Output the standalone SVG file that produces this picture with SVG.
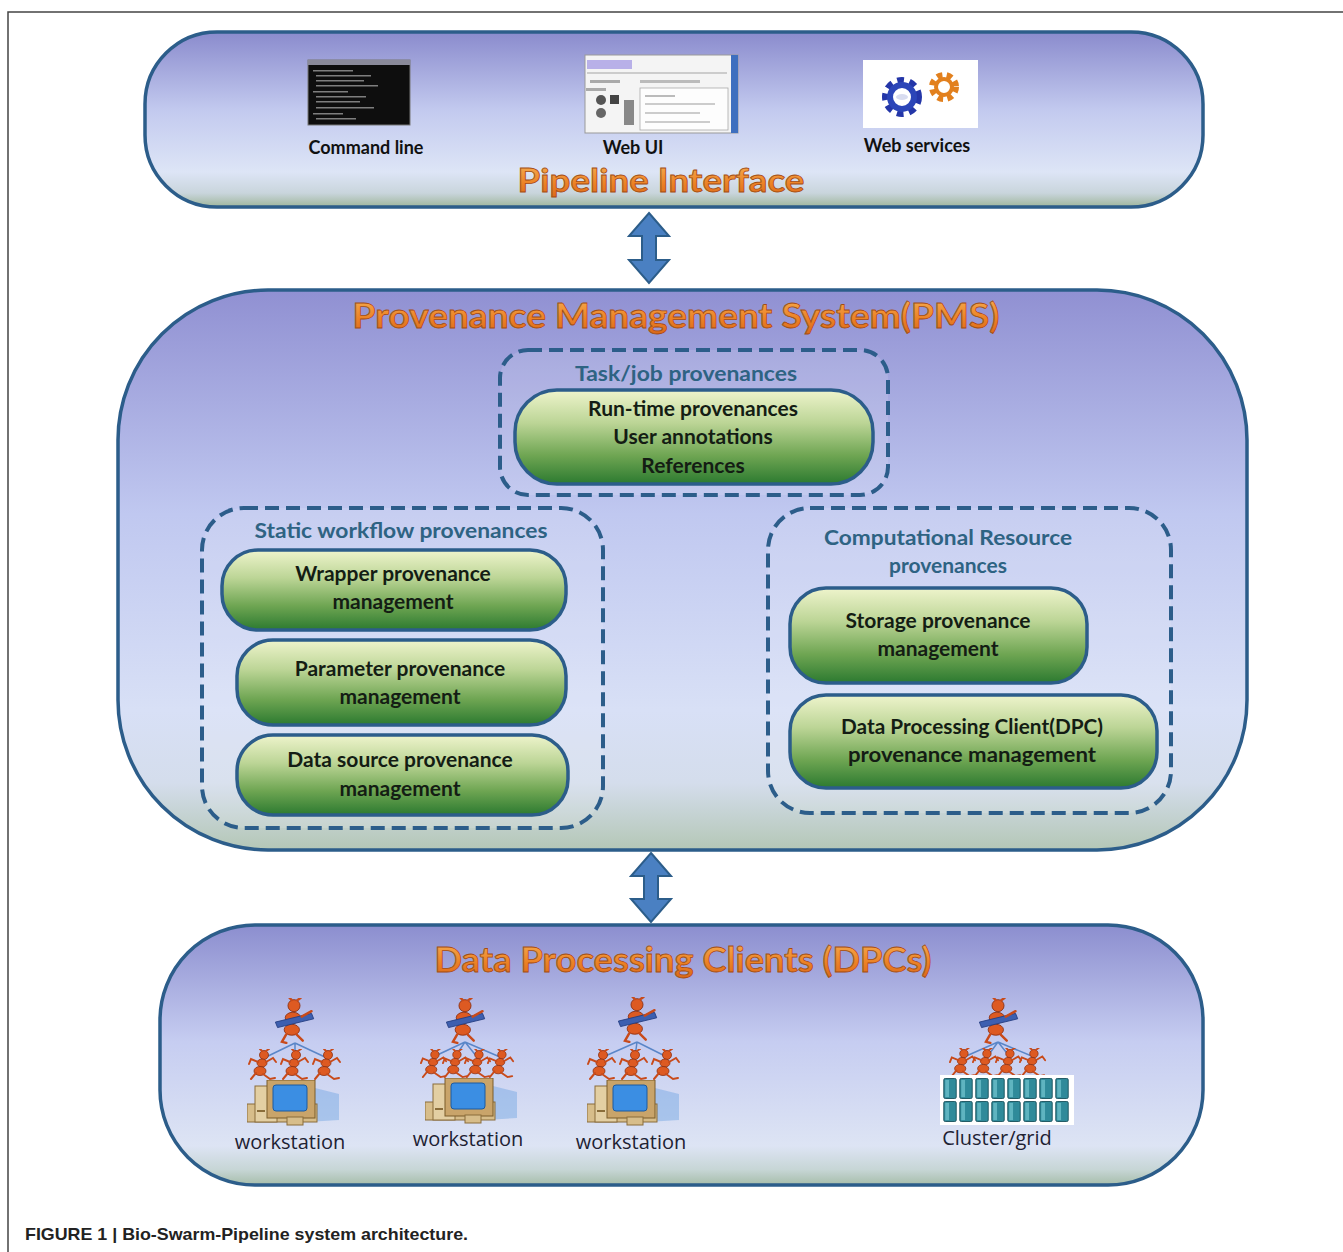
<svg xmlns="http://www.w3.org/2000/svg" width="1343" height="1252" viewBox="0 0 1343 1252">
<defs>
<style>
.panel{stroke:#2c5d8a;stroke-width:3.5}
.dash{fill:#ffffff;fill-opacity:0.12;stroke:#2c5d8a;stroke-width:4;stroke-dasharray:14 7}
.gbox{fill:url(#green);stroke:#2c5d8a;stroke-width:3.5}
.gt{font-family:Lato,"Liberation Sans",sans-serif;font-weight:bold;font-size:21px;fill:#141d14;text-anchor:middle}
.dt{font-family:Lato,"Liberation Sans",sans-serif;font-weight:bold;font-size:21px;fill:#2e6383;text-anchor:middle}
.big{font-family:Lato,"Liberation Sans",sans-serif;font-weight:bold;fill:url(#orange);stroke:#a44c12;stroke-width:0.8;text-anchor:middle}
.lbl{font-family:Lato,"Liberation Sans",sans-serif;font-weight:bold;font-size:18px;fill:#111;text-anchor:middle}
.ws{font-family:"Open Sans","DejaVu Sans",sans-serif;font-size:20px;fill:#1e2233;text-anchor:middle}
.conn{fill:none;stroke:#4a7fbf;stroke-width:1.6}
.dbl{fill:#4a80c2;stroke:#2c5d8a;stroke-width:2}
.tree{stroke:#5a86c8;stroke-width:1.5;fill:none}
</style>
<linearGradient id="pTop" x1="0" y1="0" x2="0" y2="1">
<stop offset="0" stop-color="#8a8bcd"/>
<stop offset="0.45" stop-color="#c3caef"/>
<stop offset="0.8" stop-color="#dde5f6"/>
<stop offset="0.92" stop-color="#c9d5dc"/>
<stop offset="1" stop-color="#9fb69c"/>
</linearGradient>
<linearGradient id="pMid" x1="0" y1="0" x2="0" y2="1">
<stop offset="0" stop-color="#9090d2"/>
<stop offset="0.4" stop-color="#c0c8f0"/>
<stop offset="0.75" stop-color="#d8e0f6"/>
<stop offset="0.88" stop-color="#d4ddec"/>
<stop offset="1" stop-color="#b4c7b6"/>
</linearGradient>
<linearGradient id="pBot" x1="0" y1="0" x2="0" y2="1">
<stop offset="0" stop-color="#8c8ecf"/>
<stop offset="0.45" stop-color="#c6cdf1"/>
<stop offset="0.85" stop-color="#dde4f4"/>
<stop offset="0.94" stop-color="#c7d6d6"/>
<stop offset="1" stop-color="#a6bdaa"/>
</linearGradient>
<linearGradient id="green" x1="0" y1="0" x2="0" y2="1">
<stop offset="0" stop-color="#eef4cc"/>
<stop offset="0.35" stop-color="#bcd596"/>
<stop offset="0.7" stop-color="#6ea552"/>
<stop offset="1" stop-color="#2c7a30"/>
</linearGradient>
<linearGradient id="orange" x1="0" y1="0" x2="0" y2="1">
<stop offset="0" stop-color="#f7b55a"/>
<stop offset="0.6" stop-color="#ec8226"/>
<stop offset="1" stop-color="#d9661a"/>
</linearGradient>
<marker id="vhead" viewBox="0 0 12 10" refX="6" refY="9" markerWidth="12" markerHeight="10" markerUnits="userSpaceOnUse" orient="auto-start-reverse">
<path d="M0,2 L6,9 L12,2" fill="none" stroke="#4a7fbf" stroke-width="1.5"/>
</marker>
<symbol id="ant" viewBox="0 0 30 32">
<g stroke="#8a2e10" stroke-width="0.8" fill="#dd5a22">
<circle cx="16" cy="6" r="4.5"/>
<ellipse cx="14" cy="14" rx="5" ry="4"/>
<ellipse cx="12" cy="22" rx="6" ry="4.5"/>
</g>
<g stroke="#c84a1a" stroke-width="2" fill="none" stroke-linecap="round">
<path d="M10,13 L3,10 L1,15"/>
<path d="M18,13 L25,9 L28,13"/>
<path d="M8,24 L3,30"/>
<path d="M15,25 L22,30 L27,29"/>
<path d="M14,2 L12,0"/>
<path d="M18,2 L21,0"/>
</g>
</symbol>
<symbol id="leader" viewBox="0 0 40 42">
<g stroke="#8a2e10" stroke-width="0.8" fill="#dd5a22">
<circle cx="20" cy="7" r="5.5"/>
<ellipse cx="19" cy="18" rx="7" ry="5"/>
<ellipse cx="18" cy="29" rx="7" ry="5"/>
</g>
<path d="M3,22 L36,14 L38,19 L5,27 Z" fill="#3d5fb0" stroke="#233d80" stroke-width="0.8"/>
<g stroke="#c84a1a" stroke-width="2.2" fill="none" stroke-linecap="round">
<path d="M13,33 L9,40 L13,41"/>
<path d="M22,33 L28,39"/>
<path d="M18,2 L16,0"/>
<path d="M23,2 L26,0"/>
<path d="M27,17 L36,12"/>
</g>
</symbol>
<symbol id="pc" viewBox="0 0 100 46">
<path d="M60,6 L92,14 L92,40 L60,42 Z" fill="#6ea3e2" opacity="0.45"/>
<rect x="0" y="24" width="70" height="18" fill="#d7bd8a" stroke="#8a6d3a" stroke-width="1"/>
<rect x="8" y="6" width="22" height="36" fill="#e3cfa3" stroke="#8a6d3a" stroke-width="1"/>
<rect x="20" y="0" width="48" height="38" fill="#c9a46a" stroke="#7a5d2a" stroke-width="1"/>
<rect x="26" y="5" width="34" height="26" rx="3" fill="#3b8ee3" stroke="#1d5aa0" stroke-width="1"/>
<rect x="40" y="37" width="16" height="8" fill="#d7bd8a" stroke="#8a6d3a" stroke-width="1"/>
<rect x="10" y="30" width="8" height="2" fill="#8a6d3a"/>
</symbol>
<symbol id="srv" viewBox="0 0 14 22">
<rect x="0.5" y="0.5" width="13" height="21" rx="1.5" fill="#2f8a9a" stroke="#1c5560" stroke-width="1"/>
<rect x="2" y="2" width="4" height="18" fill="#5fb4c0"/>
</symbol>
</defs>

<rect width="1343" height="1252" fill="#ffffff"/>
<path d="M8,1252 V12 H1343" fill="none" stroke="#444" stroke-width="1.5"/>

<g id="pipeline-interface">
<rect class="panel" x="145" y="32" width="1058" height="175" rx="72" ry="72" fill="url(#pTop)"/>
<g id="icon-command-line">
<rect x="308" y="60" width="102" height="65" fill="#0e0e0e" stroke="#777" stroke-width="1"/>
<rect x="308" y="60" width="102" height="5" fill="#8a8a9a"/>
<g fill="#9a9a9a" opacity="0.8">
<rect x="313" y="70" width="40" height="1.5"/><rect x="316" y="75" width="55" height="1.5"/>
<rect x="316" y="80" width="48" height="1.5"/><rect x="316" y="85" width="62" height="1.5"/>
<rect x="313" y="91" width="35" height="1.5"/><rect x="316" y="96" width="50" height="1.5"/>
<rect x="316" y="101" width="44" height="1.5"/><rect x="316" y="107" width="58" height="1.5"/>
<rect x="313" y="113" width="30" height="1.5"/><rect x="316" y="118" width="40" height="1.5"/>
</g>
</g>
<g id="icon-web-ui">
<rect x="585" y="55" width="153" height="78" fill="#f4f4f4" stroke="#999" stroke-width="1"/>
<rect x="731" y="55" width="7" height="78" fill="#3e6fbf"/>
<rect x="587" y="60" width="45" height="9" fill="#b8b0e8"/>
<rect x="587" y="72" width="140" height="2" fill="#ccc"/>
<rect x="590" y="80" width="30" height="3" fill="#aaa"/><rect x="640" y="80" width="60" height="3" fill="#bbb"/>
<rect x="586" y="88" width="20" height="3" fill="#aaa"/>
<circle cx="601" cy="100" r="5" fill="#555"/><rect x="610" y="95" width="9" height="9" fill="#444"/>
<circle cx="601" cy="113" r="5" fill="#666"/>
<rect x="624" y="100" width="10" height="25" fill="#888"/>
<rect x="640" y="88" width="88" height="42" fill="#fdfdfd" stroke="#aaa" stroke-width="0.8"/>
<rect x="645" y="95" width="30" height="2" fill="#bbb"/><rect x="645" y="103" width="70" height="2" fill="#ccc"/>
<rect x="645" y="112" width="55" height="2" fill="#ccc"/><rect x="645" y="121" width="65" height="2" fill="#ccc"/>
</g>
<g id="icon-web-services">
<rect x="863" y="60" width="115" height="68" fill="#ffffff"/>
<circle cx="944" cy="87" r="11" fill="none" stroke="#e2801e" stroke-width="8" stroke-dasharray="5 4"/>
<circle cx="944" cy="87" r="8" fill="none" stroke="#e2801e" stroke-width="4"/>
<circle cx="902" cy="97" r="15" fill="none" stroke="#2436a8" stroke-width="10" stroke-dasharray="6 5"/>
<circle cx="902" cy="97" r="12" fill="none" stroke="#2b45b8" stroke-width="6"/>
<ellipse cx="902" cy="97" rx="6" ry="3" fill="#d8dcf0"/>
</g>
<text class="lbl" x="366" y="154">Command line</text>
<text class="lbl" x="633" y="154">Web UI</text>
<text class="lbl" x="917" y="152">Web services</text>
<text class="big" x="661" y="192" font-size="32" textLength="287" lengthAdjust="spacingAndGlyphs">Pipeline Interface</text>
</g>

<g id="connectors">
<path class="dbl" d="M649,213 L669,236 L656,236 L656,260 L669,260 L649,283 L629,260 L642,260 L642,236 L629,236 Z"/>
<path class="dbl" d="M651,853 L671,876 L658,876 L658,899 L671,899 L651,922 L631,899 L644,899 L644,876 L631,876 Z"/>
<path class="conn" d="M500,421 H402 V506" marker-end="url(#vhead)"/>
<path class="conn" d="M888,423 H950 V510" marker-end="url(#vhead)"/>
</g>

<g id="pms">
<rect class="panel" x="118" y="290" width="1129" height="560" rx="150" ry="150" fill="url(#pMid)"/>
<text class="big" x="676" y="328" font-size="35" textLength="647" lengthAdjust="spacingAndGlyphs">Provenance Management System(PMS)</text>
</g>

<g id="task-job-provenances">
<rect class="dash" x="500" y="350" width="388" height="145" rx="28"/>
<text class="dt" x="686" y="381" textLength="222" lengthAdjust="spacingAndGlyphs">Task/job provenances</text>
<rect class="gbox" x="515" y="390" width="358" height="94" rx="42"/>
<text class="gt" x="693" y="416">Run-time provenances</text>
<text class="gt" x="693" y="444">User annotations</text>
<text class="gt" x="693" y="473">References</text>
</g>

<g id="static-workflow-provenances">
<rect class="dash" x="202" y="508" width="401" height="320" rx="42"/>
<text class="dt" x="401" y="538" textLength="293" lengthAdjust="spacingAndGlyphs">Static workflow provenances</text>
<g id="wrapper">
<rect class="gbox" x="222" y="550" width="344" height="80" rx="36"/>
<text class="gt" x="393" y="581">Wrapper provenance</text>
<text class="gt" x="393" y="609">management</text>
</g>
<g id="parameter">
<rect class="gbox" x="237" y="640" width="329" height="85" rx="36"/>
<text class="gt" x="400" y="676">Parameter provenance</text>
<text class="gt" x="400" y="704">management</text>
</g>
<g id="datasource">
<rect class="gbox" x="237" y="735" width="331" height="80" rx="36"/>
<text class="gt" x="400" y="767">Data source provenance</text>
<text class="gt" x="400" y="796">management</text>
</g>
</g>

<g id="computational-resource-provenances">
<rect class="dash" x="768" y="508" width="403" height="305" rx="42"/>
<text class="dt" x="948" y="545" textLength="248" lengthAdjust="spacingAndGlyphs">Computational Resource</text>
<text class="dt" x="948" y="573">provenances</text>
<g id="storage">
<rect class="gbox" x="790" y="588" width="297" height="95" rx="36"/>
<text class="gt" x="938" y="628">Storage provenance</text>
<text class="gt" x="938" y="656">management</text>
</g>
<g id="dpc-prov">
<rect class="gbox" x="790" y="695" width="367" height="93" rx="36"/>
<text class="gt" x="972" y="734" textLength="262" lengthAdjust="spacingAndGlyphs">Data Processing Client(DPC)</text>
<text class="gt" x="972" y="762" textLength="248" lengthAdjust="spacingAndGlyphs">provenance management</text>
</g>
</g>

<g id="dpcs">
<rect class="panel" x="160" y="925" width="1043" height="260" rx="95" ry="95" fill="url(#pBot)"/>
<text class="big" x="683" y="972" font-size="35" textLength="497" lengthAdjust="spacingAndGlyphs">Data Processing Clients (DPCs)</text>

<g id="ws1">
<use href="#leader" x="272" y="998" width="44" height="46"/>
<path class="tree" d="M295,1043 L264,1058 M295,1043 L295,1058 M295,1043 L327,1058"/>
<use href="#ant" x="248" y="1049" width="30" height="32"/>
<use href="#ant" x="280" y="1049" width="30" height="32"/>
<use href="#ant" x="312" y="1049" width="30" height="32"/>
<use href="#pc" x="247" y="1080" width="100" height="46"/>
<text class="ws" x="290" y="1149">workstation</text>
</g>
<g id="ws2">
<use href="#leader" x="443" y="998" width="44" height="46"/>
<path class="tree" d="M465,1042 L433,1057 M465,1042 L455,1057 M465,1042 L477,1057 M465,1042 L500,1057"/>
<use href="#ant" x="420" y="1049" width="28" height="30"/>
<use href="#ant" x="442" y="1049" width="28" height="30"/>
<use href="#ant" x="464" y="1049" width="28" height="30"/>
<use href="#ant" x="487" y="1049" width="28" height="30"/>
<use href="#pc" x="425" y="1078" width="100" height="46"/>
<text class="ws" x="468" y="1146">workstation</text>
</g>
<g id="ws3">
<use href="#leader" x="615" y="997" width="44" height="46"/>
<path class="tree" d="M637,1042 L603,1057 M637,1042 L635,1057 M637,1042 L667,1057"/>
<use href="#ant" x="587" y="1049" width="30" height="32"/>
<use href="#ant" x="619" y="1049" width="30" height="32"/>
<use href="#ant" x="651" y="1049" width="30" height="32"/>
<use href="#pc" x="587" y="1080" width="100" height="46"/>
<text class="ws" x="631" y="1149">workstation</text>
</g>
<g id="cluster">
<use href="#leader" x="976" y="998" width="44" height="46"/>
<path class="tree" d="M998,1042 L964,1057 M998,1042 L987,1057 M998,1042 L1010,1057 M998,1042 L1034,1057"/>
<use href="#ant" x="949" y="1048" width="28" height="30"/>
<use href="#ant" x="972" y="1048" width="28" height="30"/>
<use href="#ant" x="995" y="1048" width="28" height="30"/>
<use href="#ant" x="1019" y="1048" width="28" height="30"/>
<rect x="940" y="1075" width="134" height="50" fill="#ffffff"/>
<g>
<use href="#srv" x="943" y="1078" width="14" height="21"/><use href="#srv" x="959" y="1078" width="14" height="21"/>
<use href="#srv" x="975" y="1078" width="14" height="21"/><use href="#srv" x="991" y="1078" width="14" height="21"/>
<use href="#srv" x="1007" y="1078" width="14" height="21"/><use href="#srv" x="1023" y="1078" width="14" height="21"/>
<use href="#srv" x="1039" y="1078" width="14" height="21"/><use href="#srv" x="1055" y="1078" width="14" height="21"/>
<use href="#srv" x="943" y="1101" width="14" height="21"/><use href="#srv" x="959" y="1101" width="14" height="21"/>
<use href="#srv" x="975" y="1101" width="14" height="21"/><use href="#srv" x="991" y="1101" width="14" height="21"/>
<use href="#srv" x="1007" y="1101" width="14" height="21"/><use href="#srv" x="1023" y="1101" width="14" height="21"/>
<use href="#srv" x="1039" y="1101" width="14" height="21"/><use href="#srv" x="1055" y="1101" width="14" height="21"/>
</g>
<text class="ws" x="997" y="1145" font-size="18">Cluster/grid</text>
</g>
</g>

<text x="25" y="1240" font-family="'Liberation Sans',Arial,sans-serif" font-weight="bold" font-size="17" fill="#222" textLength="443" lengthAdjust="spacingAndGlyphs">FIGURE 1 | Bio-Swarm-Pipeline system architecture.</text>
</svg>
